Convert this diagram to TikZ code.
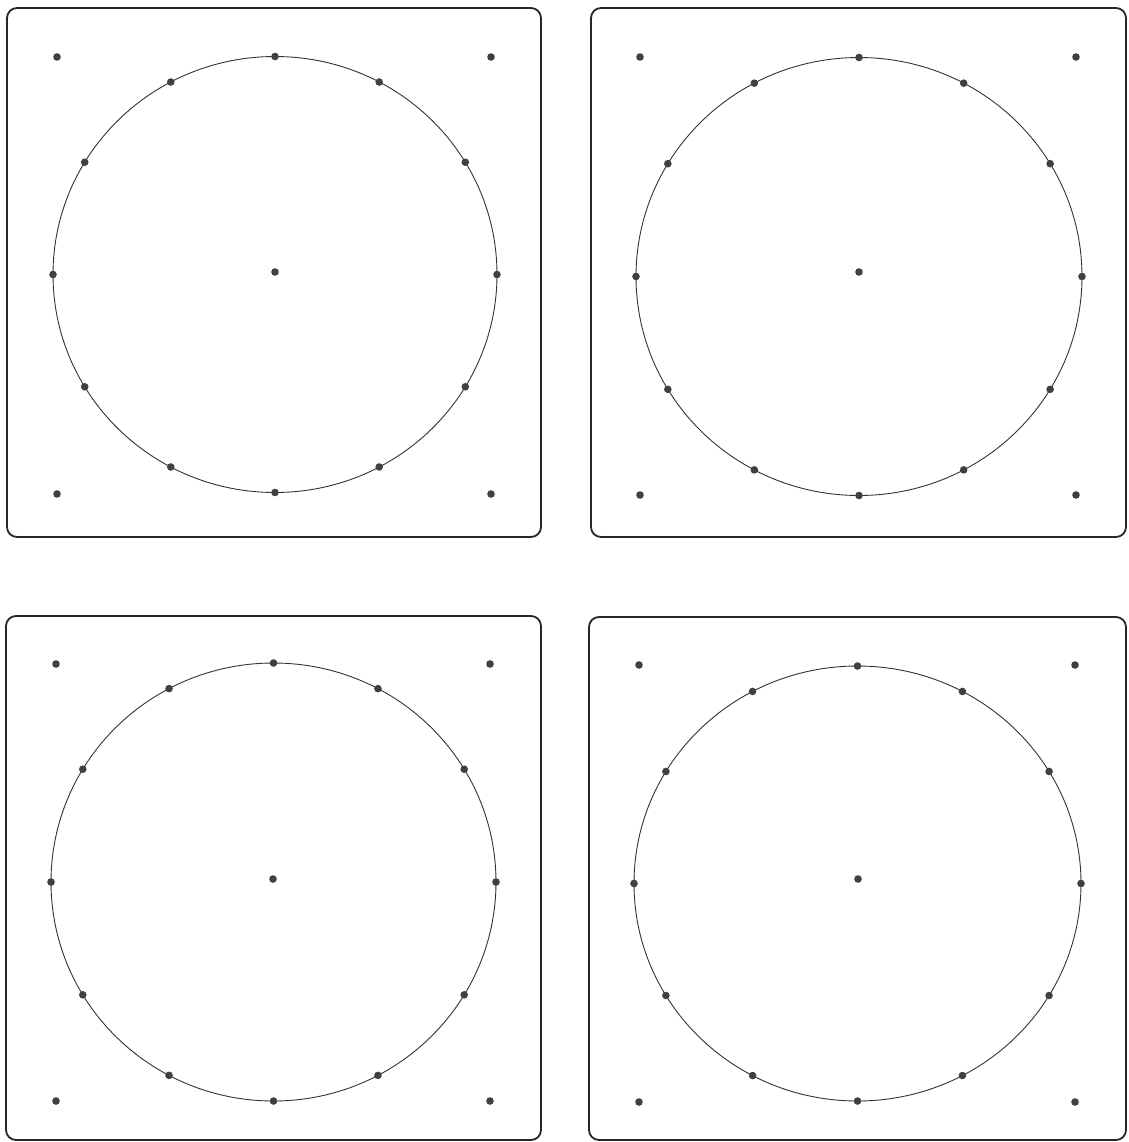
\documentclass[tikz,border=0pt]{standalone}
\usetikzlibrary{calc}
\begin{document}
\begin{tikzpicture}[x=0.5pt,y=-0.5pt,
  frame/.style={draw=black!85,line width=0.9pt,rounded corners=5pt},
  ring/.style={draw=black!80,line width=0.45pt},
  pt/.style={fill=black!75}]
\useasboundingbox (0,0) rectangle (1129,1142);
% left, top, right, bottom, ring centre x/y, radii x/y, centre dot x/y, corner dots x1, y1, x2, y2
\foreach \l/\t/\r/\b/\ex/\ey/\rx/\ry/\cx/\cy/\ax/\ay/\bx/\by in {
  7/8/541/537/275/274.5/222/218/275/272/57/57/491/494,
  591/8/1126/537/859/276.5/223/219/859/272/640/57/1076/495,
  6/616/541/1140/273.5/882/222.5/219/273/879/56/664/490/1101,
  589/617/1126/1140/857.5/883.5/223.5/217.5/858/879/639/665/1075/1102}{
  \draw[frame] (\l,\t) rectangle (\r,\b);
  \draw[ring] (\ex,\ey) ellipse[x radius=\rx*0.5pt, y radius=\ry*0.5pt];
  \fill[pt] (\cx,\cy) circle[radius=1.9pt];
  \foreach \a in {0,31,62,90,118,149,180,211,242,270,298,329}
    \fill[pt] ($(\ex,\ey)+({\rx*cos(\a)},{\ry*sin(\a)})$) circle[radius=1.9pt];
  \fill[pt] (\ax,\ay) circle[radius=1.9pt];
  \fill[pt] (\bx,\ay) circle[radius=1.9pt];
  \fill[pt] (\ax,\by) circle[radius=1.9pt];
  \fill[pt] (\bx,\by) circle[radius=1.9pt];
}
\end{tikzpicture}
\end{document}
